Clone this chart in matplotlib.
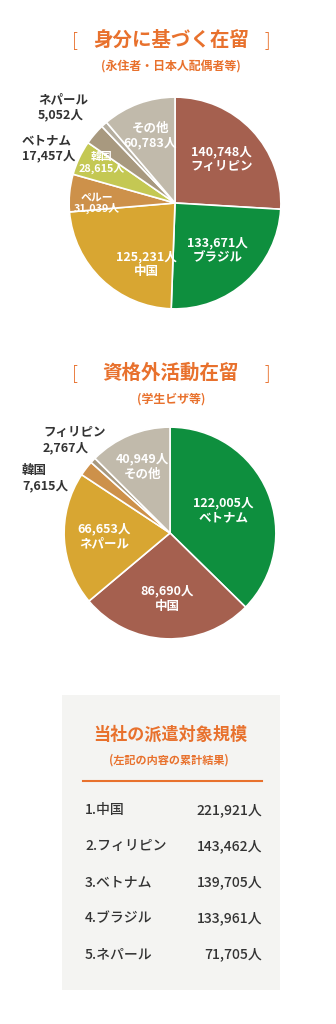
import matplotlib
matplotlib.use('Agg')
import matplotlib.pyplot as plt
from matplotlib.patches import Rectangle
import numpy as np

plt.rcParams['font.family'] = ['Noto Sans CJK JP', 'DejaVu Sans']

ORANGE = '#e8712d'
DARK = '#333333'

# 身分に基づく在留
status_names = ['フィリピン', 'ブラジル', '中国', 'ペルー', '韓国', 'ベトナム', 'ネパール', 'その他']
status_values = [140748, 133671, 125231, 31039, 28615, 17457, 5052, 60783]
status_colors = ['#a5604f', '#0e8f3e', '#d8a632', '#cd914a', '#c4c853', '#a8997f', '#b5ae9f', '#c1baab']

# 資格外活動在留
activity_names = ['ベトナム', '中国', 'ネパール', '韓国', 'フィリピン', 'その他']
activity_values = [122005, 86690, 66653, 7615, 2767, 40949]
activity_colors = ['#0e8f3e', '#a5604f', '#d8a632', '#cd914a', '#a8997f', '#c1baab']

# 当社の派遣対象規模
rank_names = ['中国', 'フィリピン', 'ベトナム', 'ブラジル', 'ネパール']
rank_totals = [221921, 143462, 139705, 133961, 71705]

W, H = 336, 1024
LABEL_FS = 9

fig = plt.figure(figsize=(W / 100, H / 100), dpi=100)
fig.patch.set_facecolor('white')


def pie_axes(cx, cy, r):
    return fig.add_axes([(cx - r) / W, 1 - (cy + r) / H, 2 * r / W, 2 * r / H])


def draw_pie(ax, names, values, colors, inside):
    """inside: name -> (radius, position along wedge 0..1, name first?, fontsize)"""
    wedges, _ = ax.pie(values, colors=colors, startangle=90, counterclock=False,
                       radius=1.0, wedgeprops=dict(edgecolor='white', linewidth=1.2))
    ax.set_xlim(-1.02, 1.02)
    ax.set_ylim(-1.02, 1.02)
    ax.set_aspect('equal')
    for w, name, v in zip(wedges, names, values):
        if name not in inside:
            continue
        r, f, name_first, fs = inside[name]
        ang = np.deg2rad(w.theta1 + f * (w.theta2 - w.theta1))
        txt = f'{name}\n{v:,}人' if name_first else f'{v:,}人\n{name}'
        ax.text(r * np.cos(ang), r * np.sin(ang), txt,
                ha='center', va='center', color='white', fontsize=fs,
                fontweight='bold', linespacing=1.05 if fs < LABEL_FS else 1.2,
                zorder=5)
    return wedges


# overlay in pixel coordinates for titles, side labels and the table
ov = fig.add_axes([0, 0, 1, 1], zorder=5)
ov.set_xlim(0, W)
ov.set_ylim(H, 0)
ov.set_axis_off()


def heading(y, title, sub):
    ov.text(171, y, title, ha='center', va='center', color=ORANGE,
            fontsize=14, fontweight='bold')
    ov.text(75, y, '[', ha='center', va='center', color=ORANGE, fontsize=13, fontweight='light')
    ov.text(267, y, ']', ha='center', va='center', color=ORANGE, fontsize=13, fontweight='light')
    ov.text(171, y + 26, sub, ha='center', va='center', color=ORANGE,
            fontsize=8.6, fontweight='bold')


def side_label(x, y, text):
    ov.text(x, y, text, ha='left', va='center', color=DARK,
            fontsize=LABEL_FS, fontweight='bold', linespacing=1.2)


heading(40, '身分に基づく在留', '(永住者・日本人配偶者等)')
ax1 = pie_axes(175, 203, 108)
draw_pie(ax1, status_names, status_values, status_colors, {
    'フィリピン': (0.6, 0.5, False, LABEL_FS),
    'ブラジル': (0.6, 0.5, False, LABEL_FS),
    '中国': (0.64, 0.72, False, LABEL_FS),
    'ペルー': (0.74, 0.78, True, 7.8),
    '韓国': (0.79, 0.33, True, 7.8),
    'その他': (0.68, 0.5, True, LABEL_FS),
})
side_label(38, 107, f'ネパール\n{status_values[6]:,}人')
side_label(22, 148, f'ベトナム\n{status_values[5]:,}人')

heading(373, '資格外活動在留', '(学生ビザ等)')
ax2 = pie_axes(170, 533, 108)
draw_pie(ax2, activity_names, activity_values, activity_colors, {
    'ベトナム': (0.55, 0.5, False, LABEL_FS),
    '中国': (0.62, 0.5, False, LABEL_FS),
    'ネパール': (0.62, 0.5, False, LABEL_FS),
    'その他': (0.68, 0.5, False, LABEL_FS),
})
side_label(43, 440, f'フィリピン\n{activity_values[4]:,}人')
side_label(22, 478, f'韓国\n{activity_values[3]:,}人')

# summary box
ov.add_patch(Rectangle((62, 695), 218, 295, facecolor='#f4f4f2', edgecolor='none', zorder=0))
ov.text(170, 735, '当社の派遣対象規模', ha='center', va='center', color=ORANGE,
        fontsize=12.3, fontweight='bold')
ov.text(169, 760, '(左記の内容の累計結果)', ha='center', va='center', color=ORANGE,
        fontsize=8, fontweight='bold')
ov.plot([83, 262], [781, 781], color=ORANGE, lw=1.5)
for i, (name, total) in enumerate(zip(rank_names, rank_totals)):
    y = 810 + i * 36
    ov.text(85, y, f'{i + 1}.{name}', ha='left', va='center', color=DARK,
            fontsize=10, fontweight='medium')
    ov.text(262, y, f'{total:,}人', ha='right', va='center', color=DARK,
            fontsize=10, fontweight='medium')

fig.savefig('out.png', dpi=100)
